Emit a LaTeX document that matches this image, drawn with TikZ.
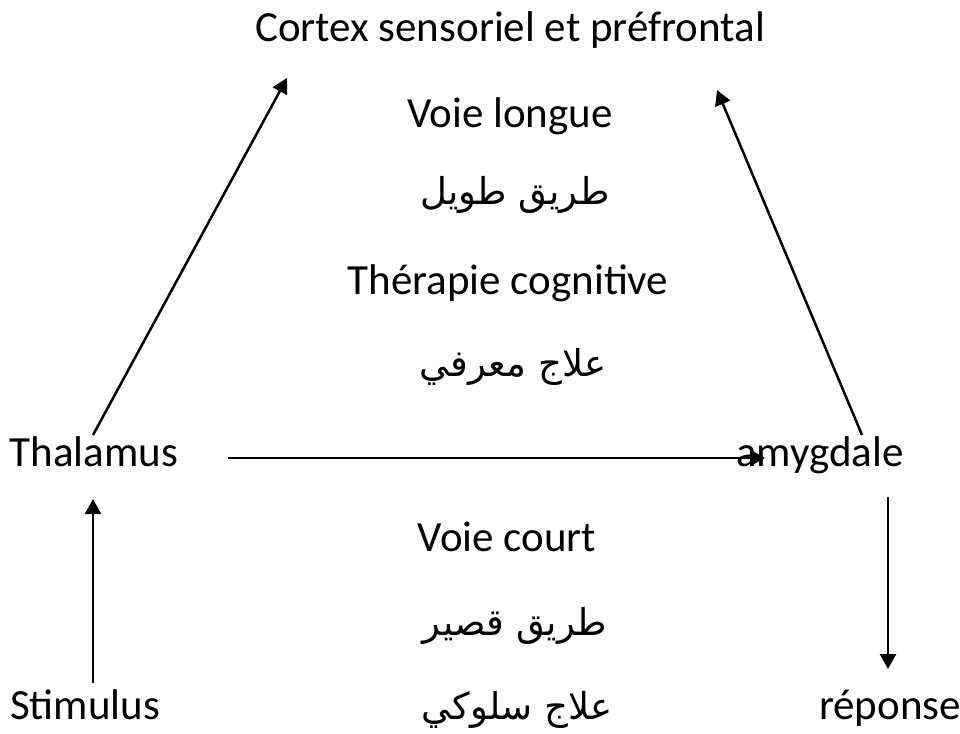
\documentclass[tikz,border=0pt]{standalone}
\usepackage{fontspec}
\setmainfont{Carlito}
\newfontfamily\arabicfont[Script=Arabic]{DejaVu Sans}
\TeXXeTstate=1
\usetikzlibrary{arrows.meta}
\begin{document}
\begin{tikzpicture}[x=1pt,y=-1pt,
  lbl/.style={inner sep=0pt,anchor=base,font=\fontsize{43}{50}\selectfont},
  ar/.style={inner sep=0pt,font=\arabicfont\fontsize{37}{44}\selectfont},
  con/.style={line width=2.5pt,-{Triangle[length=15pt,width=16pt]}}]
\useasboundingbox (0,0) rectangle (960,733);
\node[lbl] (cortex) at (510,42) {Cortex sensoriel et préfrontal};
\node[lbl] (vl) at (510,128) {Voie longue};
\node[ar] (tt) at (515,195) {\beginR طريق طويل\endR};
\node[lbl] (tc) at (508,294) {Thérapie cognitive};
\node[ar] (am) at (513,367) {\beginR علاج معرفي\endR};
\node[lbl] (thal) at (94,466) {Thalamus};
\node[lbl] (amyg) at (820,466) {amygdale};
\node[lbl] (vc) at (507,551) {Voie court};
\node[ar] (tq) at (515,626) {\beginR طريق قصير\endR};
\node[ar] (as) at (517,710) {\beginR علاج سلوكي\endR};
\node[lbl] (stim) at (85,719) {Stimulus};
\node[lbl] (rep) at (890,719) {réponse};
\coordinate (a1s) at (93,435);
\coordinate (a1e) at (287,78);
\coordinate (a2s) at (862,435);
\coordinate (a2e) at (717,90);
\coordinate (a3s) at (228,458);
\coordinate (a3e) at (765,458);
\coordinate (a4s) at (93,683);
\coordinate (a4e) at (93,499);
\coordinate (a5s) at (888,497);
\coordinate (a5e) at (888,669);
\draw[con] (a1s) -- (a1e);
\draw[con] (a2s) -- (a2e);
\draw[con] (a3s) -- (a3e);
\draw[con] (a4s) -- (a4e);
\draw[con] (a5s) -- (a5e);
\end{tikzpicture}
\end{document}
